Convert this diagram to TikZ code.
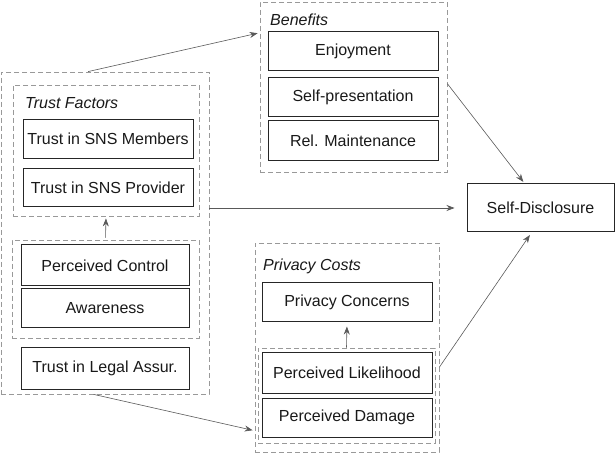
\documentclass[tikz,border=0pt]{standalone}
\usepackage{fontspec}
\setmainfont{Liberation Sans}
\usetikzlibrary{arrows.meta}

\begin{document}
\begin{tikzpicture}[x=1pt, y=-1pt,
	every node/.style={font=\fontsize{16}{18}\selectfont, text=black!90, inner sep=0pt},
	factor/.style={draw=black!85, line width=1pt, minimum width=170pt, minimum height=39pt},
	group/.style={draw=black!40, line width=0.8pt, dash pattern=on 5pt off 3pt, minimum width=#1},
	grouplabel/.style={anchor=west, font=\fontsize{16}{18}\selectfont\itshape},
	arr/.style={draw=black!65, line width=0.6pt, -{Stealth[length=8pt,width=6pt]}}]
	\useasboundingbox (0,0) rectangle (616,454);
	\node [group=208pt, minimum height=322pt] (outer) at (105,233) {};
	\node [group=186pt, minimum height=131pt] (tf) at (106,150.5) {};
	\node [grouplabel] (tflabel) at (25,103) {Trust Factors};
	\node [factor] (members) at (108,139) {Trust in SNS Members};
	\node [factor, minimum height=38pt] (provider) at (108,188) {Trust in SNS Provider};
	\node [group=187pt, minimum height=98pt] (ctl) at (105.5,289) {};
	\node [factor, minimum width=168pt, minimum height=41pt] (control) at (105,265.5) {Perceived Control};
	\node [factor, minimum width=168pt] (aware) at (105,308.5) {Awareness};
	\node [factor, minimum width=168pt, minimum height=41pt] (legal) at (105,368.5) {Trust in Legal Assur.};
	\node [group=187pt, minimum height=170pt] (ben) at (353.5,87) {};
	\node [grouplabel] (benlabel) at (270,20) {Benefits};
	\node [factor] (enjoy) at (353,51.5) {Enjoyment};
	\node [factor] (selfpres) at (353,97.5) {Self-presentation};
	\node [factor, minimum height=40pt] (relmaint) at (353,141) {Rel. Maintenance};
	\node [group=184pt, minimum height=209pt] (priv) at (347,347.5) {};
	\node [grouplabel] (privlabel) at (263,266) {Privacy Costs};
	\node [factor] (concerns) at (347,302.5) {Privacy Concerns};
	\node [group=177pt, minimum height=95pt] (lik) at (346.5,395.5) {};
	\node [factor, minimum height=40pt] (likely) at (347,373) {Perceived Likelihood};
	\node [factor] (damage) at (347,417.5) {Perceived Damage};
	\node [factor, minimum width=147pt, minimum height=48pt] (disclose) at (540.5,208) {Self-Disclosure};
	\draw [arr, shorten >=2pt] (outer.96) -- (ben.150);
	\draw [arr, shorten >=2pt] (outer.266) -- (priv.222);
	\draw [arr, shorten >=12pt] (disclose.west -| outer.east) -- (disclose.west);
	\draw [arr, shorten >=2pt] (ben.2) -- (disclose.123);
	\draw [arr, shorten >=3pt] (priv.348) -- (disclose.250);
	\draw [arr, shorten <=2pt, shorten >=2pt] (ctl.north) -- (tf.south);
	\draw [arr, shorten >=4pt] (lik.north) -- (concerns.south);
\end{tikzpicture}
\end{document}
